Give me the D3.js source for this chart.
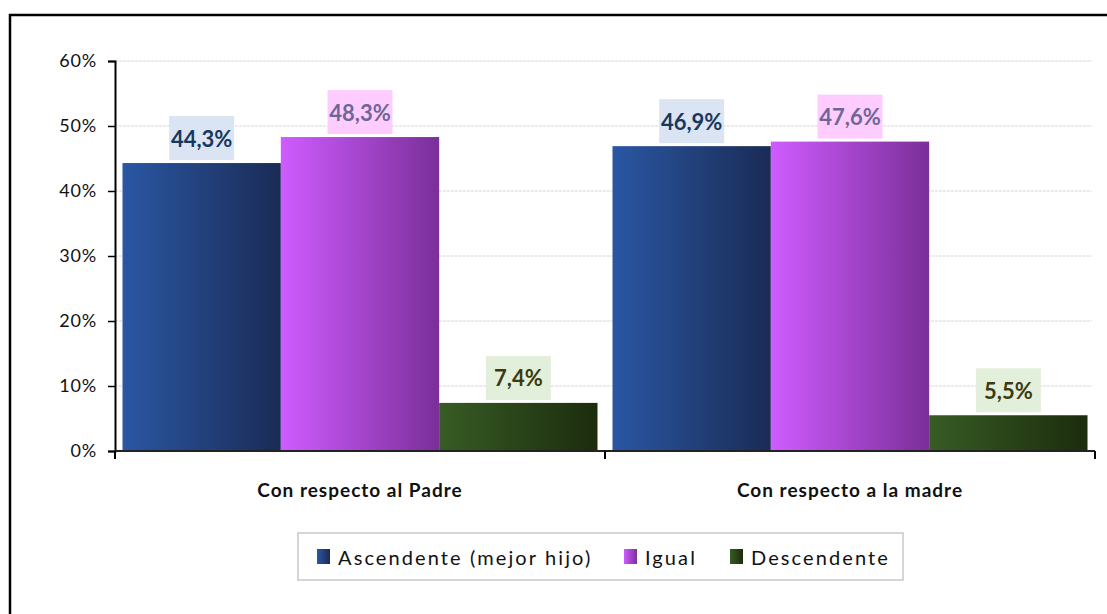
<!DOCTYPE html>
<html>
<head>
<meta charset="utf-8">
<script src="https://cdn.jsdelivr.net/npm/d3@7"></script>
<style>
  body { margin: 0; background: #fff; }
  svg { display: block; font-family: Lato, "Open Sans", sans-serif; }
</style>
</head>
<body>
<svg id="grafico" width="1107" height="614"></svg>
<script>
// datos
const categorias = ["Con respecto al Padre", "Con respecto a la madre"];
const series = ["Ascendente (mejor hijo)", "Igual", "Descendente"];
const ascendente = [44.3, 46.9];
const igual = [48.3, 47.6];
const descendente = [7.4, 5.5];
const ticksY = [0, 10, 20, 30, 40, 50, 60];

const valores = [ascendente, igual, descendente];

// estilos por serie
const grad = [["#2a57a3", "#1a2b55"], ["#cf5cff", "#7a2f99"], ["#375c24", "#1c2c0e"]];
const fondoEtiqueta = ["#dbe4f3", "#ffccff", "#e2efda"];
const colorEtiqueta = ["#17375e", "#6e6796", "#3b3a10"];

const svg = d3.select("#grafico");
const loc = d3.formatLocale({decimal: ",", thousands: ".", grouping: [3], currency: ["", "€"]});
const fmt = v => loc.format(".1f")(v) + "%";

// marco exterior
svg.append("path").attr("d", "M10 620 L10 15 L1115 15")
  .attr("fill", "none").attr("stroke", "#000").attr("stroke-width", 2.5);

const x0 = d3.scaleBand().domain(categorias).range([115, 1095]);
const x1 = d3.scaleBand().domain(series).range([7.5, x0.bandwidth() - 7.5]);
const y = d3.scaleLinear().domain([0, 60]).range([451, 61]);

// degradados
const defs = svg.append("defs");
series.forEach((s, i) => {
  const g = defs.append("linearGradient").attr("id", "g" + i)
    .attr("x1", "0%").attr("x2", "100%").attr("y1", "0%").attr("y2", "0%");
  g.append("stop").attr("offset", "0%").attr("stop-color", grad[i][0]);
  g.append("stop").attr("offset", "100%").attr("stop-color", grad[i][1]);
});

// rejilla
svg.append("g").selectAll("line").data(ticksY.slice(1)).join("line")
  .attr("x1", 115).attr("x2", 1092)
  .attr("y1", d => y(d)).attr("y2", d => y(d))
  .attr("stroke", "#d6d6d6").attr("stroke-dasharray", "3,1");

// barras
const grupos = svg.append("g").selectAll("g").data(categorias).join("g")
  .attr("transform", d => `translate(${x0(d)},0)`);

grupos.each(function(c, ci) {
  const g = d3.select(this);
  series.forEach((s, si) => {
    const v = valores[si][ci];
    g.append("rect")
      .attr("x", x1(s)).attr("width", x1.bandwidth())
      .attr("y", y(v)).attr("height", y(0) - y(v))
      .attr("fill", `url(#g${si})`);
    const cx = x1(s) + x1.bandwidth() / 2;
    g.append("rect")
      .attr("x", cx - 32.5).attr("width", 65)
      .attr("y", y(v) - 47).attr("height", 44)
      .attr("fill", fondoEtiqueta[si]);
    g.append("text")
      .attr("x", cx).attr("y", y(v) - 25)
      .attr("text-anchor", "middle").attr("dominant-baseline", "central")
      .attr("font-size", 22).attr("font-weight", "bold")
      .attr("fill", colorEtiqueta[si])
      .text(fmt(v));
  });
});

// eje Y
const ejeY = svg.append("g").attr("transform", "translate(115,0)")
  .call(d3.axisLeft(y).tickValues(ticksY).tickSize(7).tickFormat(d => d + "%"));
ejeY.select(".domain").attr("stroke", "#000").attr("stroke-width", 2);
ejeY.selectAll(".tick line").attr("stroke", "#000").attr("stroke-width", 1.5);
ejeY.selectAll(".tick text").attr("font-size", 18).attr("font-family", "Lato, sans-serif")
  .attr("letter-spacing", 0.8).attr("fill", "#111").attr("x", -18);

// eje X
const ejeX = svg.append("g").attr("transform", "translate(0,451)");
ejeX.append("line").attr("x1", 115).attr("x2", 1095)
  .attr("stroke", "#222").attr("stroke-width", 2);
ejeX.selectAll(".t").data([115, ...categorias.map(c => x0(c) + x0.bandwidth())]).join("line")
  .attr("x1", d => d).attr("x2", d => d).attr("y1", 0).attr("y2", 8)
  .attr("stroke", "#000").attr("stroke-width", 2);
ejeX.selectAll("text").data(categorias).join("text")
  .attr("x", d => x0(d) + x0.bandwidth() / 2).attr("y", 46)
  .attr("text-anchor", "middle").attr("font-size", 19).attr("font-weight", "bold")
  .attr("letter-spacing", 1).attr("fill", "#111").text(d => d);

// leyenda
const ley = svg.append("g");
ley.append("rect").attr("x", 298).attr("y", 533).attr("width", 605).attr("height", 47)
  .attr("fill", "#fff").attr("stroke", "#c8c8c8").attr("stroke-width", 1.5);
const posLey = [317, 624, 730];
series.forEach((s, i) => {
  ley.append("rect").attr("x", posLey[i]).attr("y", 549).attr("width", 13).attr("height", 15)
    .attr("fill", `url(#g${i})`);
  ley.append("text").attr("x", posLey[i] + 21).attr("y", 557)
    .attr("dominant-baseline", "central").attr("font-size", 20)
    .attr("letter-spacing", 2.1).attr("fill", "#111").text(s);
});
</script>
</body>
</html>
